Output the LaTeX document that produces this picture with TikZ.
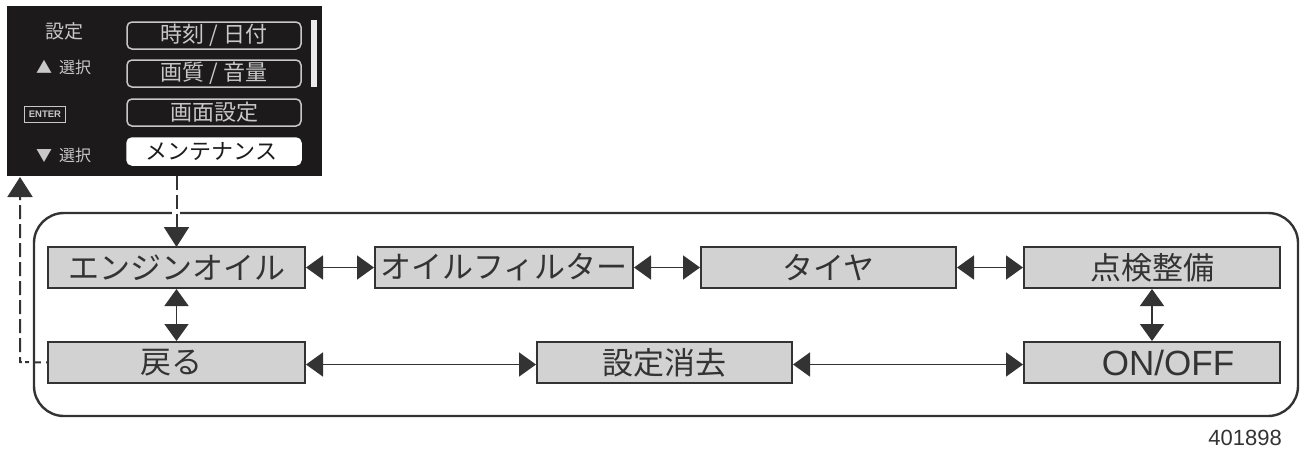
\documentclass[tikz,border=0pt]{standalone}
\usepackage{fontspec}
\setmainfont{Noto Sans CJK JP}
\newfontfamily\latinfont{Liberation Sans}
\usetikzlibrary{arrows.meta}
\definecolor{ink}{HTML}{333333}
\definecolor{boxgray}{HTML}{D2D2D2}
\definecolor{panelblack}{HTML}{1C1A1B}
\definecolor{btngray}{HTML}{C8C8C8}
\tikzset{
  x=1pt,y=-1pt,
  stepbox/.style={draw=ink,line width=1.8pt,fill=boxgray,text=ink,inner sep=0,outer sep=0,
    minimum height=41pt,font=\fontsize{31}{31}\selectfont,anchor=north west},
  wide/.style={stepbox,minimum width=257pt},
  btn/.style={draw=btngray,line width=1.5pt,rounded corners=5pt,text=btngray,inner sep=0,outer sep=0,
    minimum width=174pt,minimum height=27pt,font=\fontsize{22}{22}\selectfont,anchor=north west},
  btnon/.style={btn,fill=white,draw=white,text=panelblack},
  sidelabel/.style={text=btngray,inner sep=0,font=\fontsize{16}{16}\selectfont},
  link/.style={draw=ink,line width=1.7pt,{Triangle[length=17pt,width=24pt]}-{Triangle[length=17pt,width=24pt]},shorten <=1pt,shorten >=1pt},
  flow/.style={draw=ink,line width=2pt,dash pattern=on 14pt off 5pt,-{Triangle[length=20pt,width=25pt]}},
}
\begin{document}
\begin{tikzpicture}
\useasboundingbox (0,0) rectangle (1301,448);
% outer frame
\node[draw=ink,line width=2.4pt,rounded corners=30pt,minimum width=1264pt,minimum height=203pt,inner sep=0,outer sep=0,anchor=north west] (frame) at (34,213) {};
% panel
\node[fill=panelblack,inner sep=0,outer sep=0,minimum width=315pt,minimum height=170pt,anchor=north west] (panel) at (7,6) {};
\node[btn] (b1) at (127,22) {時刻 / 日付};
\node[btn] (b2) at (127,60) {画質 / 音量};
\node[btn] (b3) at (127,99) {画面設定};
\node[btnon] (b4) at (127,138) {\hspace*{-5pt}メンテナンス};
\node[fill=white!92!black,inner sep=0,minimum width=6pt,minimum height=67pt,anchor=north west] (scroll) at (311,20) {};
\node[sidelabel,font=\fontsize{19}{19}\selectfont] (l1) at (64,31) {設定};
\node[sidelabel,anchor=west] (l2) at (36,67) {▲\hspace{7pt}選択};
\node[draw=btngray,line width=.9pt,text=btngray,inner sep=0,minimum width=41pt,minimum height=16pt,font=\latinfont\fontsize{9.5}{9.5}\selectfont\bfseries] (l3) at (45,114) {ENTER};
\node[sidelabel,anchor=west] (l4) at (36,155) {▼\hspace{7pt}選択};
% boxes
\node[wide] (oil) at (48,247) {エンジンオイル};
\node[wide,minimum width=258pt] (filter) at (375,247) {オイルフィルター};
\node[wide,minimum width=255pt] (tire) at (701,247) {タイヤ};
\node[wide,minimum width=256pt] (check) at (1024,247) {点検整備};
\node[wide] (back) at (48,342) {\hspace*{-10pt}戻る};
\node[wide,minimum width=255pt] (clear) at (537,342) {設定消去};
\node[wide,minimum width=256pt] (onoff) at (1024,342) {\hspace*{32pt}{\latinfont\fontsize{35}{35}\selectfont ON/OFF}};
% solid links
\draw[link] (oil.east) -- (filter.west);
\draw[link] (filter.east) -- (tire.west);
\draw[link] (tire.east) -- (check.west);
\draw[link] ([yshift=-2pt]back.east) -- ([yshift=-2pt]clear.west);
\draw[link] ([yshift=-2pt]clear.east) -- ([yshift=-2pt]onoff.west);
\draw[link] (oil.south) -- (back.north);
\draw[link] (check.south) -- (onoff.north);
% dashed flows
\coordinate (crossa) at (176,213);
\draw[white,line width=8pt] (176,210) -- (176,216);
\draw[flow] (panel.south -| oil.north) -- (oil.north);
\coordinate (turn) at (20,362);
\coordinate (up) at (20,177);
\draw[flow] (back.west) -- (turn) -- (up);
\draw[white,line width=4pt] (41,362) -- (46,362);
\draw[white,line width=4pt] (21.5,362) -- (25,362);
% id
\node[inner sep=0,anchor=base east,text=ink,font=\latinfont\fontsize{22}{22}\selectfont] (id) at (1282,445) {401898};
\end{tikzpicture}
\end{document}
